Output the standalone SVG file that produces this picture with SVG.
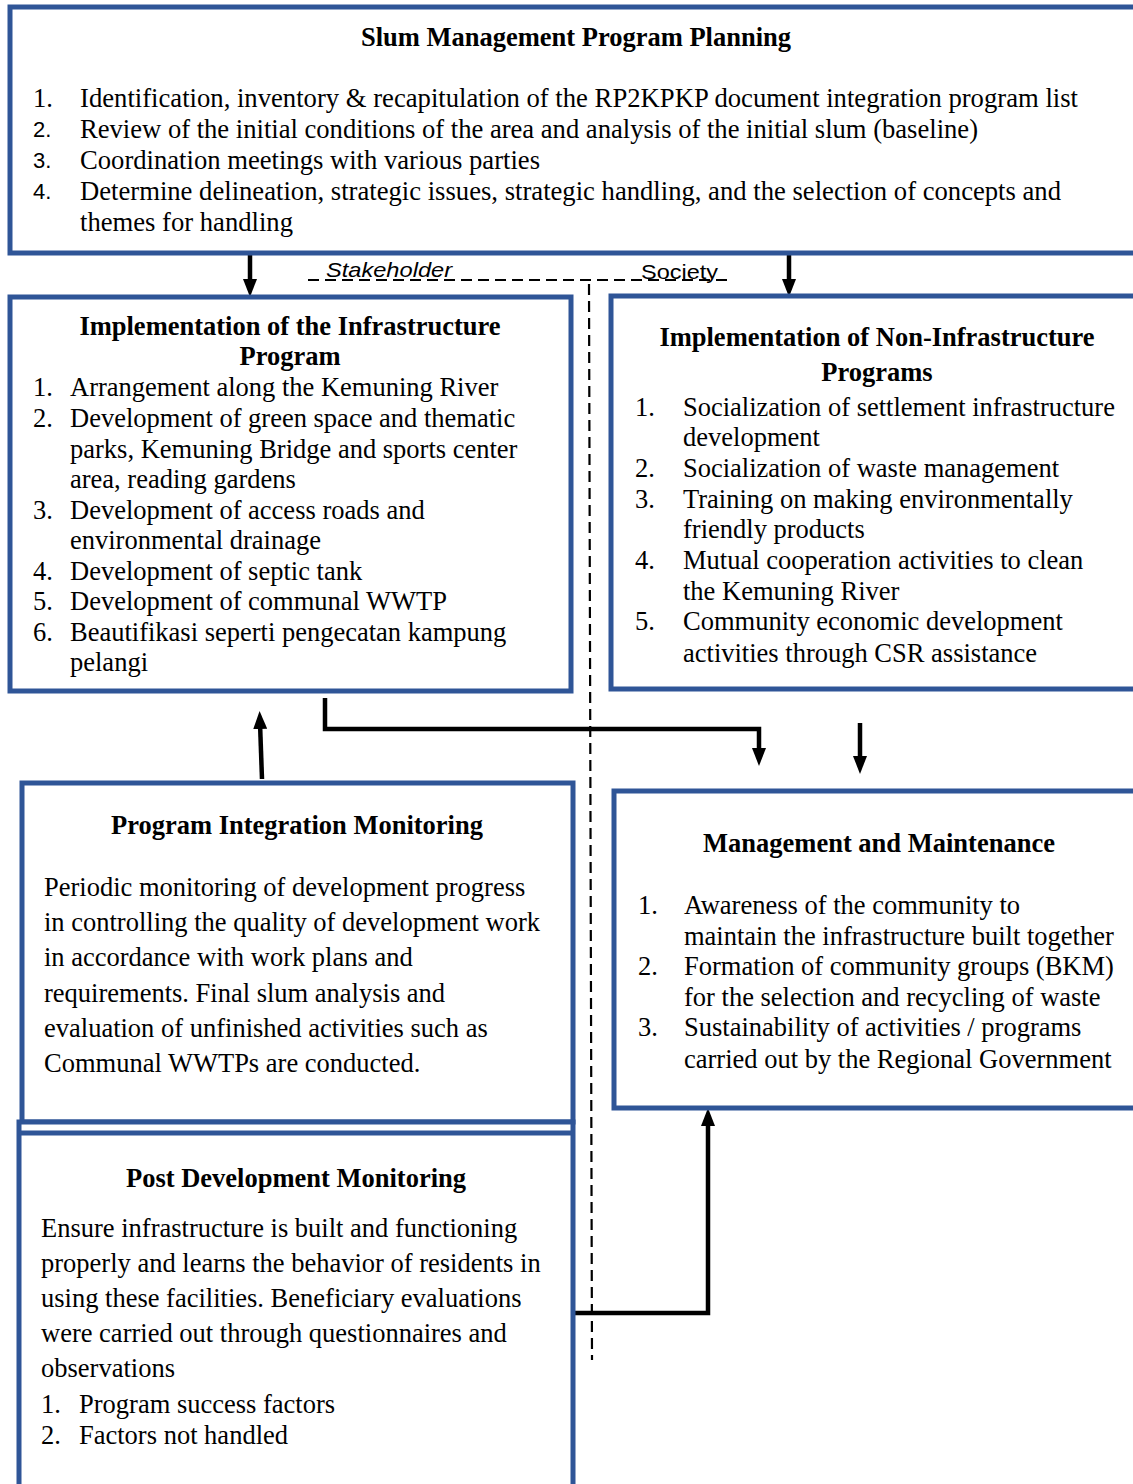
<svg xmlns="http://www.w3.org/2000/svg" width="1133" height="1484" viewBox="0 0 1133 1484">
<defs>
<style>
.box{fill:#fff;stroke:#2F5597;stroke-width:5}
.t{font-family:"Liberation Serif","Times New Roman",serif;font-size:26.5px;fill:#000}
.h{font-family:"Liberation Serif","Times New Roman",serif;font-size:26.5px;font-weight:bold;fill:#000}
.lbl{font-family:"Liberation Sans",Arial,sans-serif;font-size:21px;fill:#000}
.num{font-family:"Liberation Sans",Arial,sans-serif;font-size:22px;fill:#000}
.conn{fill:none;stroke:#000;stroke-width:4.5}
.dash{fill:none;stroke:#000;stroke-width:2.2;stroke-dasharray:11 6}
</style>
<marker id="ah" viewBox="0 0 18 14" refX="6" refY="7" markerWidth="18" markerHeight="14" markerUnits="userSpaceOnUse" orient="auto">
<path d="M0,0 L18,7 L0,14 z" fill="#000"/>
</marker>
</defs>

<g id="connectors">
<path class="dash" d="M308,280 L728,280"/>
<path class="dash" d="M589,284 L592,1360"/>
<path class="conn" d="M250,247 L250,285" marker-end="url(#ah)"/>
<path class="conn" d="M789,247 L789,285" marker-end="url(#ah)"/>
<path class="conn" d="M262,779 L260,723" marker-end="url(#ah)"/>
<path class="conn" d="M325,698 L325,729 L759,729 L759,754" marker-end="url(#ah)"/>
<path class="conn" d="M860,723 L860,762" marker-end="url(#ah)"/>
<path class="conn" d="M572,1313 L708,1313 L708,1120" marker-end="url(#ah)"/>
<text class="lbl" x="326" y="277" font-style="italic" textLength="126" lengthAdjust="spacingAndGlyphs">Stakeholder</text>
<text class="lbl" x="641" y="279" textLength="77" lengthAdjust="spacingAndGlyphs">Society</text>
</g>

<g id="planning">
<rect class="box" x="10" y="7" width="1140" height="246"/>
<text class="h" x="576" y="46" text-anchor="middle">Slum Management Program Planning</text>
<text class="t" x="33" y="107">1.</text>
<text class="t" x="80" y="107" textLength="998" lengthAdjust="spacingAndGlyphs">Identification, inventory &amp; recapitulation of the RP2KPKP document integration program list</text>
<text class="num" x="33" y="137">2.</text>
<text class="t" x="80" y="138" textLength="898" lengthAdjust="spacingAndGlyphs">Review of the initial conditions of the area and analysis of the initial slum (baseline)</text>
<text class="num" x="33" y="168">3.</text>
<text class="t" x="80" y="169" textLength="460" lengthAdjust="spacingAndGlyphs">Coordination meetings with various parties</text>
<text class="num" x="33" y="199">4.</text>
<text class="t" x="80" y="200" textLength="981" lengthAdjust="spacingAndGlyphs">Determine delineation, strategic issues, strategic handling, and the selection of concepts and</text>
<text class="t" x="80" y="231" textLength="213" lengthAdjust="spacingAndGlyphs">themes for handling</text>
</g>

<g id="infrastructure">
<rect class="box" x="10" y="297" width="561" height="394"/>
<text class="h" x="290" y="335" text-anchor="middle">Implementation of the Infrastructure</text>
<text class="h" x="290" y="365" text-anchor="middle">Program</text>
<text class="t" x="33" y="396">1.</text><text class="t" x="70" y="396">Arrangement along the Kemuning River</text>
<text class="t" x="33" y="427">2.</text><text class="t" x="70" y="427">Development of green space and thematic</text>
<text class="t" x="70" y="458">parks, Kemuning Bridge and sports center</text>
<text class="t" x="70" y="488">area, reading gardens</text>
<text class="t" x="33" y="519">3.</text><text class="t" x="70" y="519">Development of access roads and</text>
<text class="t" x="70" y="549">environmental drainage</text>
<text class="t" x="33" y="580">4.</text><text class="t" x="70" y="580">Development of septic tank</text>
<text class="t" x="33" y="610">5.</text><text class="t" x="70" y="610">Development of communal WWTP</text>
<text class="t" x="33" y="641">6.</text><text class="t" x="70" y="641">Beautifikasi seperti pengecatan kampung</text>
<text class="t" x="70" y="671">pelangi</text>
</g>

<g id="non-infrastructure">
<rect class="box" x="611" y="296" width="540" height="393"/>
<text class="h" x="877" y="346" text-anchor="middle">Implementation of Non-Infrastructure</text>
<text class="h" x="877" y="381" text-anchor="middle">Programs</text>
<text class="t" x="635" y="416">1.</text><text class="t" x="683" y="416">Socialization of settlement infrastructure</text>
<text class="t" x="683" y="446">development</text>
<text class="t" x="635" y="477">2.</text><text class="t" x="683" y="477">Socialization of waste management</text>
<text class="t" x="635" y="508">3.</text><text class="t" x="683" y="508">Training on making environmentally</text>
<text class="t" x="683" y="538">friendly products</text>
<text class="t" x="635" y="569">4.</text><text class="t" x="683" y="569">Mutual cooperation activities to clean</text>
<text class="t" x="683" y="600">the Kemuning River</text>
<text class="t" x="635" y="630">5.</text><text class="t" x="683" y="630">Community economic development</text>
<text class="t" x="683" y="662">activities through CSR assistance</text>
</g>

<g id="integration-monitoring">
<rect class="box" x="22" y="783" width="551" height="339"/>
<text class="h" x="297" y="834" text-anchor="middle">Program Integration Monitoring</text>
<text class="t" x="44" y="896">Periodic monitoring of development progress</text>
<text class="t" x="44" y="931">in controlling the quality of development work</text>
<text class="t" x="44" y="966">in accordance with work plans and</text>
<text class="t" x="44" y="1002">requirements. Final slum analysis and</text>
<text class="t" x="44" y="1037">evaluation of unfinished activities such as</text>
<text class="t" x="44" y="1072">Communal WWTPs are conducted.</text>
</g>

<g id="management-maintenance">
<rect class="box" x="614" y="791" width="540" height="317"/>
<text class="h" x="879" y="852" text-anchor="middle">Management and Maintenance</text>
<text class="t" x="638" y="914">1.</text><text class="t" x="684" y="914">Awareness of the community to</text>
<text class="t" x="684" y="945">maintain the infrastructure built together</text>
<text class="t" x="638" y="975">2.</text><text class="t" x="684" y="975">Formation of community groups (BKM)</text>
<text class="t" x="684" y="1006">for the selection and recycling of waste</text>
<text class="t" x="638" y="1036">3.</text><text class="t" x="684" y="1036">Sustainability of activities / programs</text>
<text class="t" x="684" y="1068">carried out by the Regional Government</text>
</g>

<g id="post-development-monitoring">
<rect class="box" x="19" y="1122" width="554" height="420"/>
<line x1="19" y1="1133" x2="573" y2="1133" stroke="#2F5597" stroke-width="5"/>
<text class="h" x="296" y="1187" text-anchor="middle">Post Development Monitoring</text>
<text class="t" x="41" y="1237">Ensure infrastructure is built and functioning</text>
<text class="t" x="41" y="1272">properly and learns the behavior of residents in</text>
<text class="t" x="41" y="1307">using these facilities. Beneficiary evaluations</text>
<text class="t" x="41" y="1342">were carried out through questionnaires and</text>
<text class="t" x="41" y="1377">observations</text>
<text class="t" x="41" y="1413">1.</text><text class="t" x="79" y="1413">Program success factors</text>
<text class="t" x="41" y="1444">2.</text><text class="t" x="79" y="1444">Factors not handled</text>
</g>
</svg>
